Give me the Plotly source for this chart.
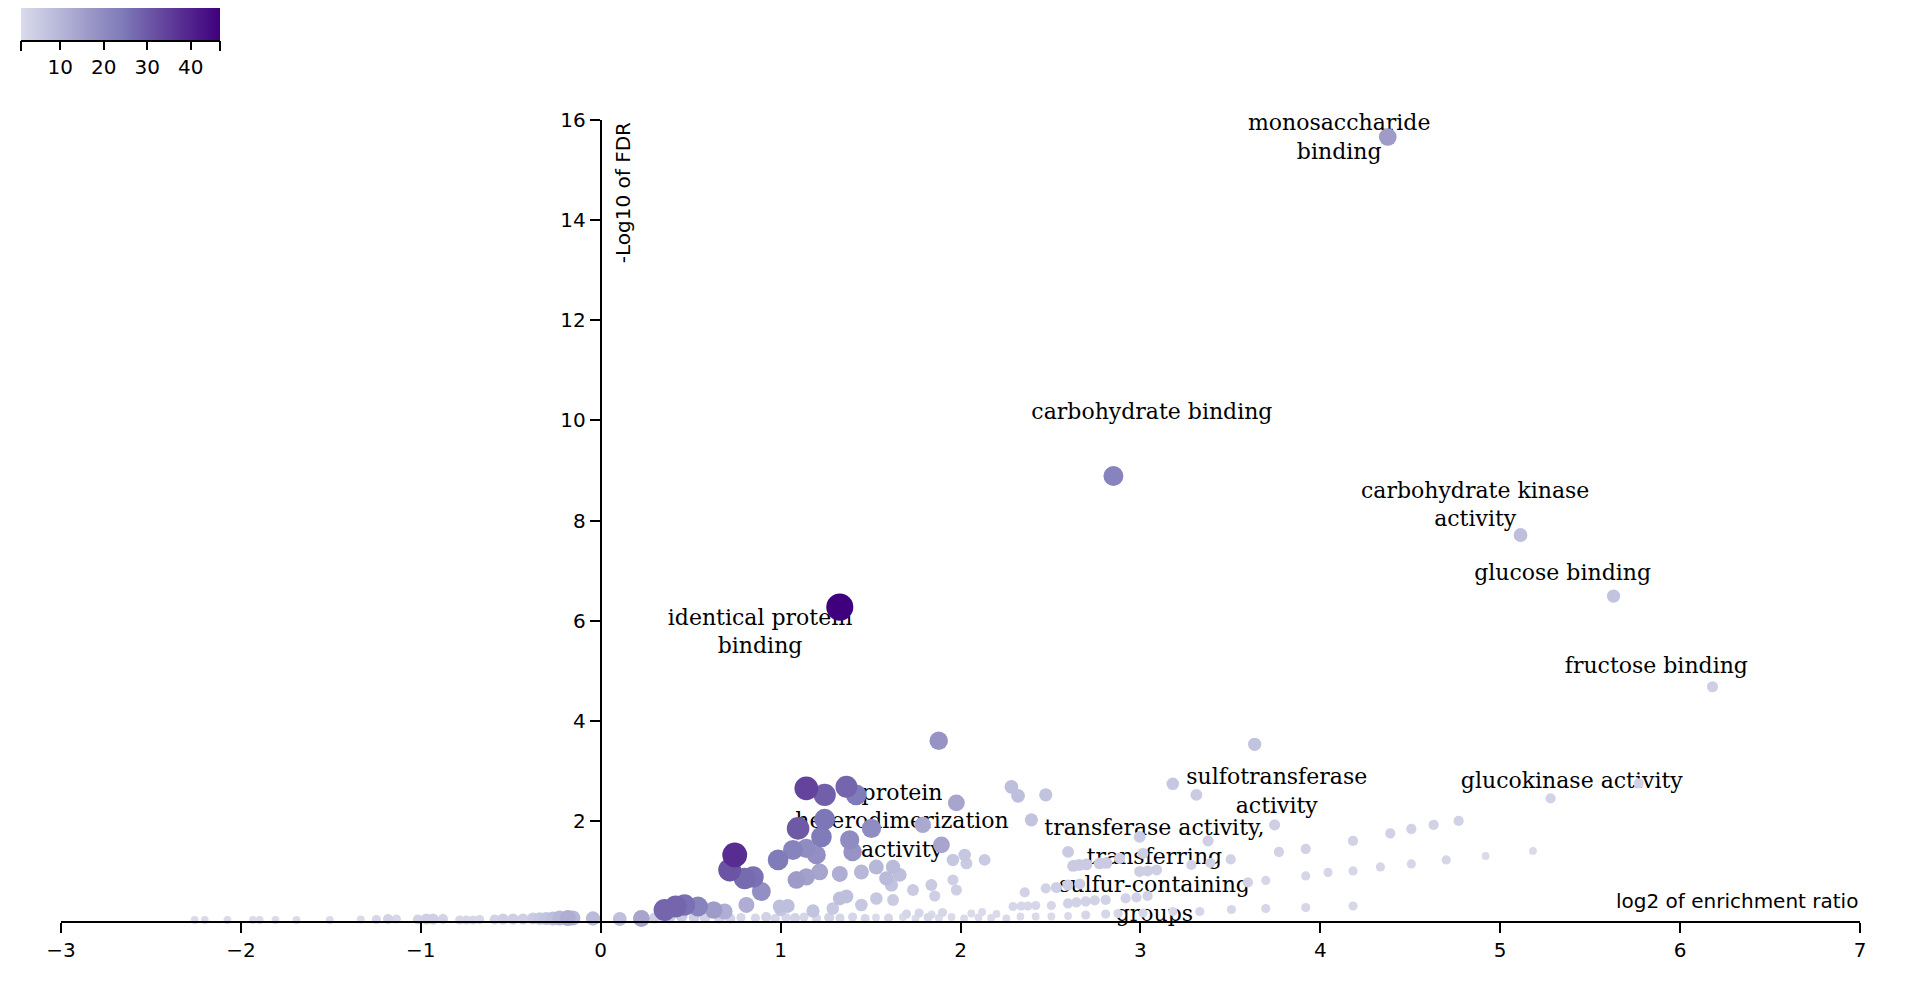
import math
import plotly.graph_objects as go

# ---------------- data ----------------
# log2 enrichment ratio
ratio = [
    4.375, 2.85, 5.113, 5.63, 6.18, 1.329, 1.879, 3.635, 3.18, 5.77, 5.28,
    1.143, 1.245, 1.366, 1.42, 1.977,
    1.097, 1.245, 1.227, 1.384, 1.505, 1.79, 1.894, 1.40,
    0.745, 0.717, 0.80, 0.847, 0.893,
    0.986, 1.069, 1.143, 1.199,
    1.088, 1.143, 1.217, 1.329,
    1.449, 1.532, 1.588, 1.625, 1.662, 1.616,
    1.736, 1.838, 1.857, 1.958, 2.023, 2.033, 2.134, 1.958, 1.977,
    1.329, 1.366, 1.449, 1.532, 1.625, 1.29,
    0.81, 0.995, 1.04, 1.18,
    2.283, 2.32, 2.474, 2.394, 3.311, 3.746, 4.389, 4.182, 2.996, 3.376,
    2.598, 3.014, 3.77, 3.919,
    2.626, 2.66, 2.70, 2.774, 2.811, 2.885, 3.283, 3.389, 3.502,
    2.996, 3.04, 3.09, 3.919, 4.043, 4.182, 4.334, 3.697, 3.598,
    2.357, 2.474, 2.533, 2.596, 2.663, 2.918, 2.978, 3.04,
    2.292, 2.338, 2.375, 2.418, 2.505, 2.598, 2.644, 2.696, 2.746, 2.807,
    2.255, 2.333, 2.418, 2.505, 2.598, 2.696, 2.807, 2.876, 3.014, 3.181,
    3.33, 3.506, 3.697, 3.919, 4.182,
    4.506, 4.63, 4.769, 4.506, 4.70, 4.919, 5.182,
    -2.257, -2.201, -2.075, -1.933, -1.896, -1.808, -1.691, -1.506, -1.334,
    -1.247, -1.182, -1.136, -1.016, -0.969, -0.932, -0.877, -0.784, -0.747,
    -0.71, -0.673, -0.589, -0.543, -0.487, -0.432, -0.376, -0.339, -0.302,
    -0.265, -0.228, -0.182, -0.154, -0.043, 0.106, 0.226,
    0.355, 0.417, 0.466, 0.541, 0.628, 0.689, 1.0,
    0.30, 0.38, 0.45, 0.52, 0.58, 0.66,
    0.72, 0.78, 0.86, 0.92, 0.97, 1.03, 1.08, 1.13, 1.20, 1.27, 1.33, 1.40,
    1.47, 1.53, 1.60, 1.68, 1.75, 1.82, 1.88, 1.95, 2.02, 2.10, 2.17,
    1.70, 1.77, 1.84, 1.90, 2.06, 2.12, 2.20,
]
# -log10 FDR
fdr = [
    15.66, 8.89, 7.71, 6.49, 4.68, 6.27, 3.60, 3.53, 2.74, 2.75, 2.45,
    2.65, 2.52, 2.68, 2.52, 2.36,
    1.85, 2.03, 1.68, 1.62, 1.85, 1.92, 1.52, 1.38,
    1.32, 1.02, 0.85, 0.88, 0.59,
    1.22, 1.42, 1.45, 1.32,
    0.82, 0.88, 0.98, 0.94,
    0.98, 1.08, 0.85, 1.08, 0.92, 0.72,
    0.62, 0.72, 0.50, 1.22, 1.32, 1.15, 1.22, 0.82, 0.62,
    0.45, 0.49, 0.32, 0.45, 0.42, 0.25,
    0.32, 0.29, 0.30, 0.20,
    2.68, 2.50, 2.52, 2.02, 2.52, 1.92, 1.75, 1.60, 1.68, 1.60,
    1.38, 1.35, 1.38, 1.44,
    1.10, 1.12, 1.13, 1.15, 1.16, 1.25, 1.12, 1.16, 1.23,
    0.99, 1.00, 1.02, 0.90, 0.97, 1.00, 1.08, 0.81, 0.77,
    0.57, 0.65, 0.67, 0.72, 0.74, 0.45, 0.47, 0.50,
    0.29, 0.30, 0.30, 0.31, 0.31, 0.35, 0.37, 0.39, 0.41, 0.42,
    0.05, 0.09, 0.09, 0.09, 0.10, 0.12, 0.14, 0.15, 0.16, 0.19,
    0.19, 0.23, 0.25, 0.27, 0.30,
    1.84, 1.92, 2.00, 1.14, 1.22, 1.30, 1.40,
    0.02, 0.02, 0.02, 0.02, 0.02, 0.02, 0.02, 0.02, 0.03,
    0.03, 0.04, 0.04, 0.03, 0.04, 0.04, 0.04, 0.02, 0.02,
    0.02, 0.03, 0.03, 0.04, 0.04, 0.04, 0.05, 0.05, 0.05,
    0.05, 0.06, 0.06, 0.06, 0.05, 0.04, 0.05,
    0.22, 0.29, 0.32, 0.29, 0.22, 0.19, 0.22,
    0.06, 0.08, 0.10, 0.08, 0.06, 0.05,
    0.05, 0.07, 0.06, 0.08, 0.05, 0.07, 0.06, 0.08, 0.05, 0.07, 0.06, 0.08,
    0.05, 0.07, 0.06, 0.08, 0.05, 0.07, 0.06, 0.08, 0.05, 0.07, 0.06,
    0.14, 0.16, 0.13, 0.17, 0.15, 0.18, 0.14,
]
# overlapping gene count
overlap = [
    16, 22, 8, 7, 4, 46.7, 18, 7, 6, 3, 3,
    34, 29, 28, 24, 14,
    30, 25, 24, 20, 20, 13, 14, 18,
    38, 31, 27, 26, 19,
    24, 22, 20, 19,
    16, 15, 14, 12,
    10, 10, 9, 9, 8, 7,
    5, 5, 4, 6, 6, 5, 5, 4, 4,
    8, 8, 6, 6, 5, 6,
    12, 8, 8, 7,
    8, 8, 7, 7, 5, 4, 3, 3, 5, 4,
    5, 4, 3, 3,
    5, 5, 5, 5, 5, 4, 3, 3, 3,
    4, 4, 4, 2, 2, 2, 2, 2, 3,
    3, 3, 4, 4, 4, 3, 3, 3,
    2, 2, 2, 2, 2, 3, 3, 3, 3, 3,
    1, 1, 1, 1, 1, 2, 2, 2, 2, 2,
    2, 2, 2, 2, 2,
    3, 3, 3, 2, 2, 1, 1,
    1, 1, 1, 1, 1, 1, 1, 1, 1,
    2, 3, 2, 3, 4, 4, 3, 2, 2,
    2, 2, 3, 4, 4, 4, 5, 6, 7,
    8, 10, 12, 10, 9, 8, 14,
    28, 28, 26, 22, 16, 12, 6,
    4, 6, 5, 4, 3, 3,
    3, 2, 2, 3, 2, 2, 3, 2, 2, 3, 2, 2,
    2, 1, 2, 1, 1, 2, 1, 1, 1, 1, 1,
    2, 2, 1, 2, 1, 1, 1,
]

label_text = [
    "monosaccharide<br>binding",
    "carbohydrate binding",
    "carbohydrate kinase<br>activity",
    "glucose binding",
    "fructose binding",
    "identical protein<br>binding",
    "sulfotransferase<br>activity",
    "glucokinase activity",
    "protein<br>heterodimerization<br>activity",
    "transferase activity,<br>transferring<br>sulfur-containing<br>groups",
]
label_x = [4.105, 3.064, 4.861, 5.347, 5.868, 0.886, 3.758, 5.398, 1.675, 3.078]
label_y = [15.62, 10.13, 8.28, 6.92, 5.07, 5.74, 2.56, 2.77, 1.96, 0.97]

x_ticks = [-3, -2, -1, 0, 1, 2, 3, 4, 5, 6, 7]
y_ticks = [2, 4, 6, 8, 10, 12, 14, 16]
cbar_ticks = [10, 20, 30, 40]

# ---------------- figure ----------------
order = sorted(range(len(overlap)), key=lambda i: overlap[i])
xs = [ratio[i] for i in order]
ys = [fdr[i] for i in order]
vs = [overlap[i] for i in order]
sizes = [4.5 + 3.3 * math.sqrt(v) for v in vs]

purples = [
    [0.0, "#dadaeb"], [1 / 6, "#bcbddc"], [2 / 6, "#9e9ac8"], [3 / 6, "#807dba"],
    [4 / 6, "#6a51a3"], [5 / 6, "#54278f"], [1.0, "#3f007d"],
]

W, H = 1920, 1000
OFF = 8  # page body margin
ML, MT = 61 - OFF, 120 - OFF
pw, ph = 1799, 801
MR = W - ML - pw
MB = H - MT - ph

sans = dict(family="DejaVu Sans", size=20, color="black")

fig = go.Figure()
fig.add_trace(go.Scatter(
    x=label_x, y=label_y, mode="text", text=label_text,
    textposition="middle center",
    textfont=dict(family="DejaVu Serif", size=22, color="black"),
    hoverinfo="skip", cliponaxis=False, showlegend=False,
))
fig.add_trace(go.Scatter(
    x=xs, y=ys, mode="markers", cliponaxis=False, showlegend=False,
    marker=dict(
        size=sizes, color=vs, colorscale=purples, cmin=1, cmax=46.7,
        opacity=1, line=dict(width=0),
        colorbar=dict(
            orientation="h",
            x=(21 - OFF - ML) / pw, xanchor="left",
            y=1 + (MT + OFF) / ph, yanchor="top",
            lenmode="pixels", len=199, thickness=40,
            xpad=0, ypad=0, outlinewidth=0,
            tickvals=cbar_ticks, ticks="outside", ticklen=10, tickwidth=2,
            tickcolor="black", tickfont=sans,
        ),
    ),
))

fig.update_layout(
    width=W, height=H,
    margin=dict(l=ML, r=MR, t=MT, b=MB, pad=0, autoexpand=False),
    paper_bgcolor="white", plot_bgcolor="white",
    xaxis=dict(
        range=[-3, 7], tickvals=x_ticks, ticks="outside", ticklen=10,
        tickwidth=2, tickcolor="black", showline=True, linewidth=2,
        linecolor="black", showgrid=False, zeroline=False, tickfont=sans,
        automargin=False,
    ),
    yaxis=dict(
        range=[0, 16], tickvals=y_ticks, ticks="outside", ticklen=10,
        tickwidth=2, tickcolor="black", showline=True, linewidth=2,
        linecolor="black", showgrid=False, zeroline=False, tickfont=sans,
        anchor="free", position=(0 - (-3)) / 10, automargin=False,
    ),
    annotations=[
        dict(text="-Log10 of FDR", xref="x", yref="y", x=0, y=16,
             xanchor="left", yanchor="top", xshift=8, textangle=-90,
             showarrow=False, font=sans),
        dict(text="log2 of enrichment ratio", xref="x", yref="y", x=7, y=0,
             xanchor="right", yanchor="bottom", yshift=6,
             showarrow=False, font=sans),
    ],
)

# colorbar axis baseline with end ticks
cb_x0 = (21 - OFF - ML) / pw
cb_x1 = (220 - OFF - ML) / pw
cb_y = 1 + (MT + OFF - 41) / ph
cb_y2 = 1 + (MT + OFF - 51) / ph
for sh in [
    dict(x0=cb_x0, x1=cb_x1, y0=cb_y, y1=cb_y),
    dict(x0=cb_x0, x1=cb_x0, y0=cb_y, y1=cb_y2),
    dict(x0=cb_x1, x1=cb_x1, y0=cb_y, y1=cb_y2),
]:
    fig.add_shape(type="line", xref="paper", yref="paper",
                  line=dict(color="black", width=2), **sh)

fig.write_html("out.html")
